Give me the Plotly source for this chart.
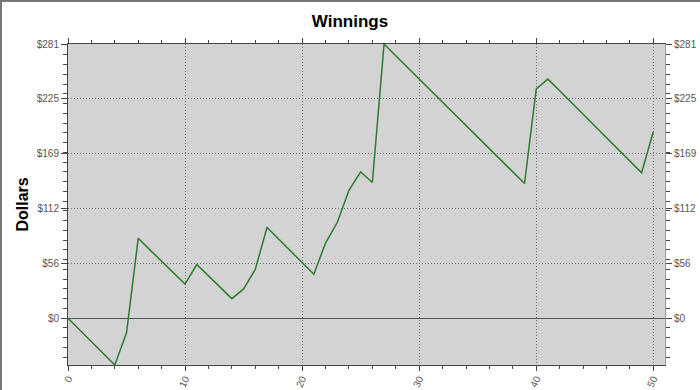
import plotly.graph_objects as go

games = list(range(0, 51))
winnings = [0, -12, -24, -36, -48, -15, 82, 70, 58, 47,
            35, 55, 43, 32, 20, 30, 50, 93, 81, 69,
            57, 45, 77, 98, 131, 150, 139, 281, 269, 257,
            245, 233, 221, 209, 197, 185, 174, 162, 150, 138,
            235, 245, 233, 221, 209, 197, 185, 173, 161, 149,
            191]

y_tickvals = [0, 56.2, 112.4, 168.6, 224.8, 281]
y_ticktext = ["$0", "$56", "$112", "$169", "$225", "$281"]
x_tickvals = [0, 10, 20, 30, 40, 50]

axis_color = "#444444"
grid_color = "#6e6e6e"
label_font = dict(family="Liberation Sans, Arial, sans-serif", size=10, color="#555555")

fig = go.Figure()
fig.add_trace(go.Scatter(x=games, y=winnings, mode="lines",
                         line=dict(color="#2e7a2e", width=1.5),
                         showlegend=False, hoverinfo="x+y"))
fig.add_trace(go.Scatter(x=games, y=winnings, mode="lines", yaxis="y2",
                         line=dict(color="rgba(0,0,0,0)", width=0),
                         showlegend=False, hoverinfo="skip"))

fig.update_layout(
    width=700, height=390,
    margin=dict(l=68, r=35, t=44, b=25),
    paper_bgcolor="white",
    plot_bgcolor="#d3d3d3",
    title=dict(text="<b>Winnings</b>", x=0.5, xanchor="center",
               y=1 - 21 / 390, yanchor="middle",
               font=dict(family="Liberation Sans, Arial, sans-serif", size=17, color="black")),
    xaxis=dict(range=[0, 51], tickmode="array", tickvals=x_tickvals, automargin=False,
               ticks="outside", ticklen=5, tickcolor=axis_color, tickangle=-65,
               ticklabelstandoff=-2,
               tickfont=label_font, showline=True, linecolor=axis_color, linewidth=1,
               mirror="ticks", showgrid=True, gridcolor=grid_color, griddash="1px,2px",
               gridwidth=1, zeroline=False,
               minor=dict(tickmode="linear", tick0=0, dtick=2, ticks="outside",
                          ticklen=3, tickcolor=axis_color, showgrid=False)),
    yaxis=dict(range=[-48, 281], tickmode="array", tickvals=y_tickvals, automargin=False,
               ticktext=y_ticktext, ticks="outside", ticklen=6, tickcolor=axis_color,
               tickfont=label_font, showline=True, linecolor=axis_color, linewidth=1,
               showgrid=True, gridcolor=grid_color, griddash="1px,2px", gridwidth=1,
               zeroline=True, zerolinecolor="#555555", zerolinewidth=1,
               minor=dict(tickmode="linear", tick0=0, dtick=10, ticks="outside",
                          ticklen=4, tickcolor=axis_color, showgrid=False)),
    yaxis2=dict(range=[-48, 281], overlaying="y", side="right", tickmode="array",
                automargin=False,
                tickvals=y_tickvals, ticktext=y_ticktext, ticks="outside", ticklen=6,
                tickcolor=axis_color, tickfont=label_font, showline=True,
                linecolor="#9a9a9a", linewidth=1, showgrid=False, zeroline=False,
                minor=dict(tickmode="linear", tick0=0, dtick=10, ticks="outside",
                           ticklen=4, tickcolor=axis_color, showgrid=False)),
    annotations=[dict(text="<b>Dollars</b>", xref="paper", yref="paper",
                      x=(22 - 68) / 597, y=0.5, xanchor="center", yanchor="middle",
                      textangle=-90, showarrow=False,
                      font=dict(family="Liberation Sans, Arial, sans-serif", size=16, color="black"))],
    shapes=[
        dict(type="line", xref="paper", yref="paper",
             x0=-68 / 597, x1=632 / 597, y0=(365 - 1) / 321, y1=(365 - 1) / 321,
             line=dict(color="#777777", width=2)),
        dict(type="line", xref="paper", yref="paper",
             x0=(1 - 68) / 597, x1=(1 - 68) / 597, y0=-25 / 321, y1=365 / 321,
             line=dict(color="#777777", width=2)),
    ],
)

fig.write_html("out.html")
